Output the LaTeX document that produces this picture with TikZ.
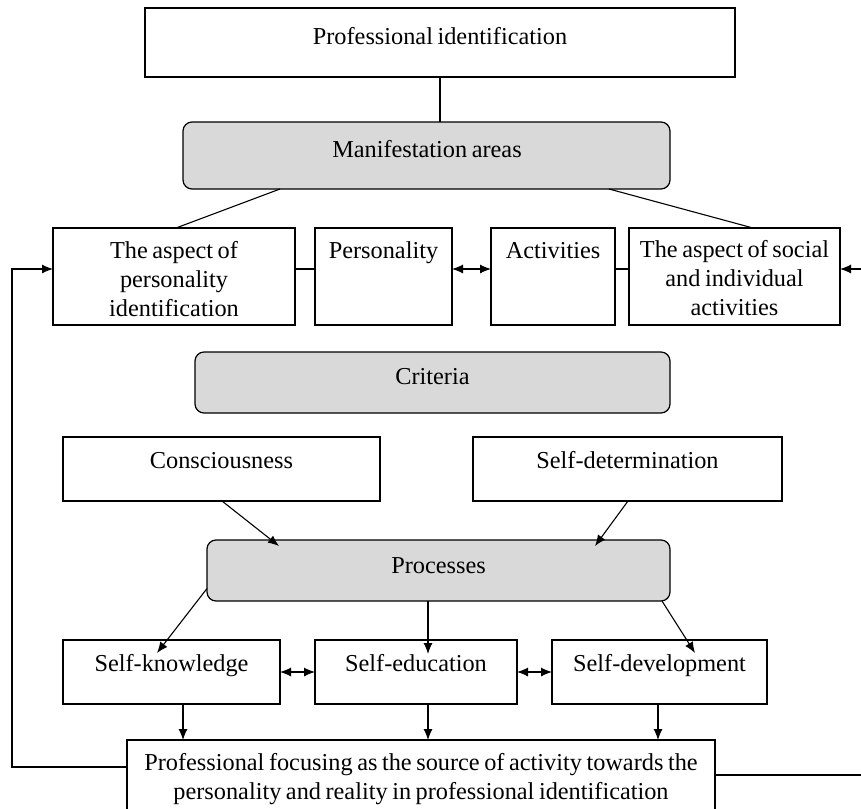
\documentclass[tikz,border=0pt]{standalone}
\usepackage{fontspec}
\setmainfont{Liberation Serif}[WordSpace=0.75]
\usetikzlibrary{arrows.meta,calc}
\begin{document}
\begin{tikzpicture}[x=1pt,y=-1pt,
  every node/.style={inner sep=0pt,outer sep=0pt},
  boxw/.style={draw=black,line width=1.2pt,fill=white,anchor=north west},
  boxg/.style={draw=black,line width=1.2pt,fill=gray!30,rounded corners=9pt,anchor=north west},
  lbl/.style={anchor=base,align=center,font=\fontsize{24.3}{29}\selectfont},
  conn/.style={draw=black,line width=1.1pt},
  arr/.style={conn,-{Latex[length=11pt,width=9pt]}},
  darr/.style={conn,{Latex[length=11pt,width=9pt]}-{Latex[length=11pt,width=9pt]}}]
\useasboundingbox (0,0) rectangle (861,808);
% boxes
\node[boxw,minimum width=590pt,minimum height=69pt] (top) at (145,8) {};
\node[boxg,minimum width=487pt,minimum height=67pt] (manif) at (183,122) {};
\node[boxw,minimum width=242pt,minimum height=97pt] (asp1) at (53,228) {};
\node[boxw,minimum width=137pt,minimum height=97pt] (pers) at (315,228) {};
\node[boxw,minimum width=124pt,minimum height=97pt] (act) at (491,228) {};
\node[boxw,minimum width=211pt,minimum height=97pt] (asp2) at (629,228) {};
\node[boxg,minimum width=475pt,minimum height=61pt] (crit) at (195,352) {};
\node[boxw,minimum width=317pt,minimum height=64pt] (consc) at (63,437) {};
\node[boxw,minimum width=309pt,minimum height=64pt] (sdet) at (473,437) {};
\node[boxg,minimum width=463pt,minimum height=61pt] (proc) at (207,540) {};
\node[boxw,minimum width=217pt,minimum height=64pt] (sk) at (63,640) {};
\node[boxw,minimum width=202pt,minimum height=64pt] (se) at (315,640) {};
\node[boxw,minimum width=215pt,minimum height=64pt] (sd) at (552,640) {};
\node[boxw,minimum width=588pt,minimum height=80pt] (bot) at (127,740) {};
% texts (anchor=base is the baseline of the last line)
\node[lbl] (topt) at (440,45) {Professional identification};
\node[lbl] (manift) at (427,157) {Manifestation areas};
\node[lbl] (asp1t) at (174,316) {The aspect of\\personality\\identification};
\node[lbl] (perst) at (383.5,258) {Personality};
\node[lbl] (actt) at (553,258) {Activities};
\node[lbl] (asp2t) at (734.5,315) {The aspect of social\\and individual\\activities};
\node[lbl] (critt) at (432.5,384) {Criteria};
\node[lbl] (consct) at (221.5,468) {Consciousness};
\node[lbl] (sdett) at (627.5,468) {Self-determination};
\node[lbl] (proct) at (438.5,573) {Processes};
\node[lbl] (skt) at (171.5,671) {Self-knowledge};
\node[lbl] (set) at (416,671) {Self-education};
\node[lbl] (sdt) at (659.5,671) {Self-development};
\node[lbl] (bott) at (421,799) {Professional focusing as the source of activity towards the\\personality and reality in professional identification};
% connectors
\draw[conn] (top.south) -- (top.south |- manif.north);
\draw[conn] ([xshift=97pt]manif.south west) -- ([xshift=123pt]asp1.north west);
\draw[conn] ([xshift=-61pt]manif.south east) -- ([xshift=-87pt]asp2.north east);
\draw[conn] ([yshift=7.5pt]asp1.east) -- ([yshift=7.5pt]pers.west);
\draw[darr] ([yshift=7.5pt]pers.east) -- ([yshift=7.5pt]act.west);
\draw[conn] ([yshift=7.5pt]act.east) -- ([yshift=7.5pt]asp2.west);
\coordinate (lc) at (12,269);
\draw[arr] ([yshift=13pt]bot.west) -| (lc) -- ([yshift=7.5pt]asp1.west);
\coordinate (rc1) at (861,775);
\coordinate (rc2) at (861,269);
\draw[conn] ([yshift=5pt]bot.east) -- (rc1);
\draw[arr] (rc2) -- ([yshift=7.5pt]asp2.east);
\draw[arr] ([xshift=159pt]consc.south west) -- ([xshift=72pt,yshift=-6pt]proc.north west);
\draw[arr] ([xshift=155pt]sdet.south west) -- ([xshift=-75pt,yshift=-6pt]proc.north east);
\draw[arr] ([yshift=-18pt]proc.west) -- ([xshift=94pt,yshift=-13pt]sk.north west);
\draw[arr] ([xshift=221pt]proc.south west) -- ([xshift=113pt,yshift=-14pt]se.north west);
\draw[arr] ([xshift=-8pt]proc.south east) -- ([xshift=143pt,yshift=-13pt]sd.north west);
\draw[darr] (sk.east) -- (se.west);
\draw[darr] (se.east) -- (sd.west);
\coordinate (skb) at ([xshift=120pt]sk.south west);
\coordinate (seb) at ([xshift=113pt]se.south west);
\coordinate (sdb) at ([xshift=106pt]sd.south west);
\draw[arr] (skb) -- (skb |- bot.north);
\draw[arr] (seb) -- (seb |- bot.north);
\draw[arr] (sdb) -- (sdb |- bot.north);
\end{tikzpicture}
\end{document}
